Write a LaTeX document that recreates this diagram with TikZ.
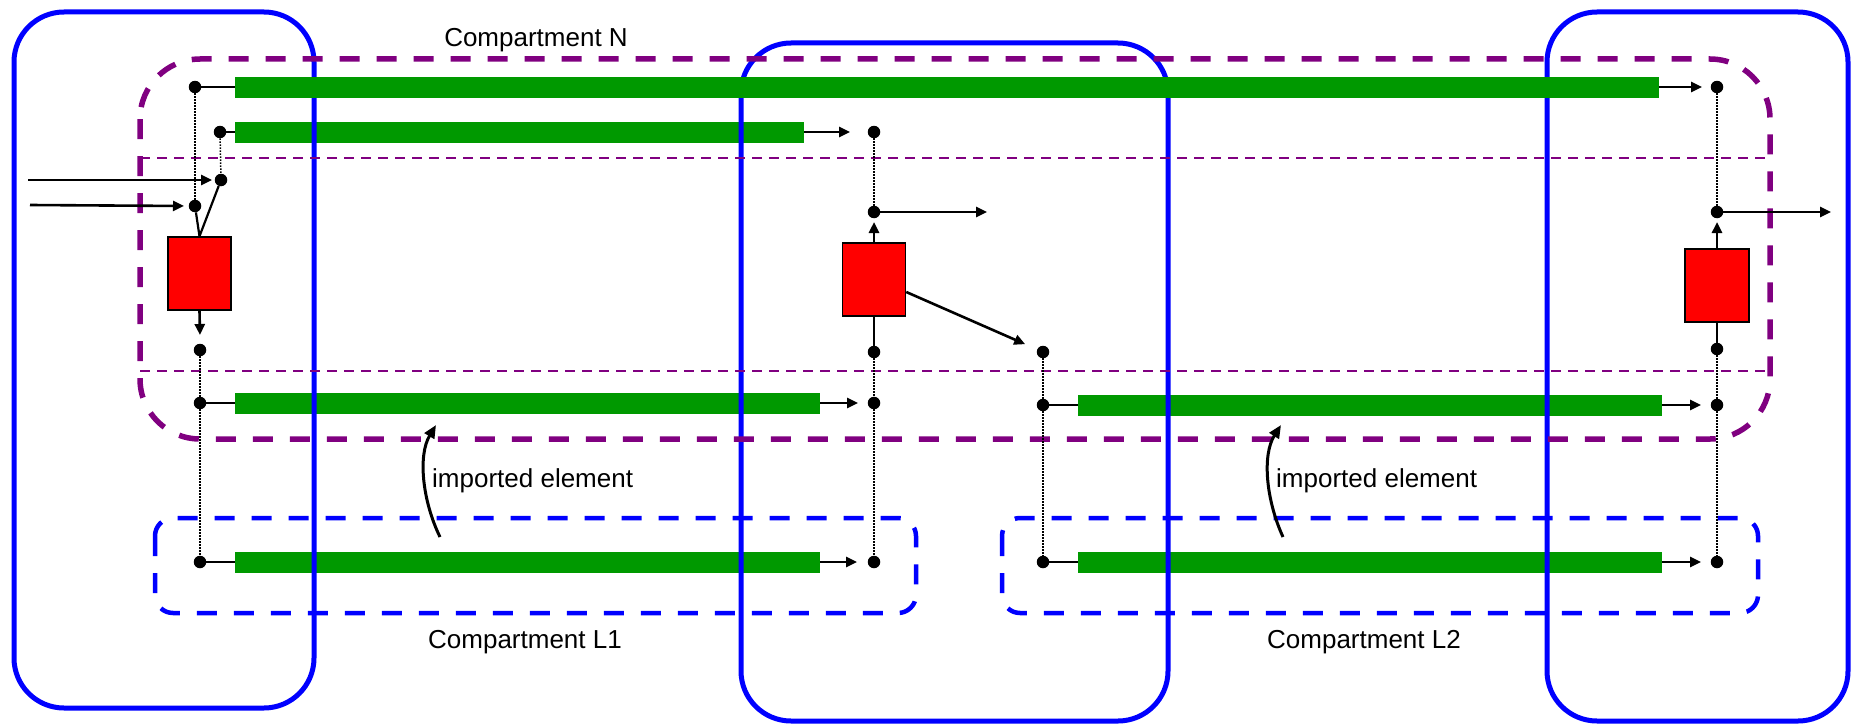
\documentclass[tikz,border=0pt]{standalone}
\usepackage{fontspec}
\setmainfont{Liberation Sans}
\usetikzlibrary{arrows.meta}
\definecolor{cblue}{RGB}{0,0,255}
\definecolor{cpurple}{RGB}{128,0,128}
\definecolor{cgreen}{RGB}{0,153,0}
\definecolor{cred}{RGB}{255,0,0}
\begin{document}
\begin{tikzpicture}[x=1pt,y=-1pt,
  dot/.style={circle,fill=black,inner sep=0pt,minimum size=12.5pt},
  bar/.style={fill=cgreen,inner sep=0pt,minimum height=21pt},
  proc/.style={draw=black,line width=1.5pt,fill=cred,inner sep=0pt,minimum width=63pt,minimum height=73pt},
  comp/.style={draw=cblue,line width=5pt,rounded corners=50pt},
  compN/.style={draw=cpurple,line width=5.5pt,dash pattern=on 20pt off 17pt,rounded corners=60pt},
  sep/.style={draw=cpurple,line width=2.5pt,dash pattern=on 10pt off 7pt},
  compL/.style={draw=cblue,line width=4.5pt,dash pattern=on 20pt off 17pt,rounded corners=18pt},
  arr/.style={line width=2.6pt,-{Triangle[length=11pt,width=10pt]}},
  carr/.style={line width=3pt,-{Triangle[length=13pt,width=11pt]}},
  conn/.style={line width=2.2pt},
  dotl/.style={line width=1.5pt,dash pattern=on 1.5pt off 1.5pt},
  lbl/.style={font=\fontsize{26}{30}\selectfont,inner sep=0pt}]
\useasboundingbox (0,0) rectangle (1857,725);

% green bars (under the blue compartments)
\node[bar,minimum width=569pt] (bar2) at (519.5,132) {};
\node[bar,minimum width=585pt] (bar3) at (527.5,403) {};
\node[bar,minimum width=585pt] (bar4) at (527.5,562) {};
\node[bar,minimum width=584pt] (bar5) at (1370,405) {};
\node[bar,minimum width=584pt] (bar6) at (1370,562) {};

% blue compartments
\draw[comp] (14,12) rectangle (314,708);
\draw[comp] (741,43) rectangle (1168,721);
\draw[comp] (1547,12) rectangle (1848,721);

\node[bar,minimum width=1424pt] (bar1) at (947,87) {};

% compartment N
\draw[compN] (140,59) rectangle (1770,439);
\draw[sep] (140,158) -- (1767,158);
\draw[sep] (140,371) -- (1767,371);

% compartments L1, L2
\draw[compL] (155,518) rectangle (916,613);
\draw[compL] (1002,518) rectangle (1758,613);

% labels
\node[lbl,anchor=base] (labN) at (536,47) {Compartment N};
\node[lbl,anchor=base] (labL1) at (525,648) {Compartment L1};
\node[lbl,anchor=base] (labL2) at (1364,648) {Compartment L2};
\node[lbl,anchor=base west] (imp1) at (432,487) {imported element};
\node[lbl,anchor=base west] (imp2) at (1276,487) {imported element};

% red processes
\node[proc] (box1) at (199.5,273.5) {};
\node[proc] (box2) at (874,279.5) {};
\node[proc,minimum width=64pt] (box3) at (1717,285.5) {};

% dots
\node[dot] (dA) at (195,87) {};
\node[dot] (dB) at (220,132) {};
\node[dot] (dC) at (221,180) {};
\node[dot] (dD) at (195,206) {};
\node[dot] (dE) at (200,350) {};
\node[dot] (dF) at (200,403) {};
\node[dot] (dG) at (200,562) {};
\node[dot] (mA) at (874,132) {};
\node[dot] (mB) at (874,212) {};
\node[dot] (mC) at (874,352) {};
\node[dot] (mD) at (874,403) {};
\node[dot] (mE) at (874,562) {};
\node[dot] (nA) at (1043,352) {};
\node[dot] (nB) at (1043,405) {};
\node[dot] (nC) at (1043,562) {};
\node[dot] (rA) at (1717,87) {};
\node[dot] (rB) at (1717,212) {};
\node[dot] (rC) at (1717,349) {};
\node[dot] (rD) at (1717,405) {};
\node[dot] (rE) at (1717,562) {};

\coordinate (in1) at (28,180);
\coordinate (in2) at (30,205);
\coordinate (out1) at (987,212);
\coordinate (out2) at (1831,212);
\coordinate (c1s) at (440,537);
\coordinate (c1e) at (436,425);
\coordinate (c2s) at (1283,537);
\coordinate (c2e) at (1281,425);

% dotted links
\draw[dotl] (dA) -- (dD);
\draw[dotl] (dB) -- (dC);
\draw[dotl] (dE) -- (dF);
\draw[dotl] (dF) -- (dG);
\draw[dotl] (mA) -- (mB);
\draw[dotl] (mC) -- (mD);
\draw[dotl] (mD) -- (mE);
\draw[dotl] (nA) -- (nB);
\draw[dotl] (nB) -- (nC);
\draw[dotl] (rA) -- (rB);
\draw[dotl] (rC) -- (rD);
\draw[dotl] (rD) -- (rE);

% solid links
\draw[conn] (dA) -- (bar1.west);
\draw[conn] (dB) -- (bar2.west);
\draw[conn] (dF) -- (bar3.west);
\draw[conn] (dG) -- (bar4.west);
\draw[conn] (nB) -- (bar5.west);
\draw[conn] (nC) -- (bar6.west);
\draw[conn] (dD) -- (box1.north);
\draw[conn] (dC) -- (box1.north);
\draw[conn] (box2.south) -- (mC);
\draw[conn] (box3.south) -- (rC);

% arrows
\draw[arr] (bar1.east) -- ([xshift=-15pt]rA.center);
\draw[arr] (bar2.east) -- ([xshift=-24pt]mA.center);
\draw[arr] (bar3.east) -- ([xshift=-16pt]mD.center);
\draw[arr] (bar4.east) -- ([xshift=-17pt]mE.center);
\draw[arr] (bar5.east) -- ([xshift=-16pt]rD.center);
\draw[arr] (bar6.east) -- ([xshift=-16pt]rE.center);
\draw[arr] (mB) -- (out1);
\draw[arr] (rB) -- (out2);
\draw[arr] (in1) -- ([xshift=-9pt]dC.center);
\draw[arr] (in2) -- ([xshift=-11pt]dD.center);
\draw[arr] (box1.south) -- ([yshift=15pt]dE.center);
\draw[arr] (box2.north) -- ([yshift=-10pt]mB.center);
\draw[arr] (box3.north) -- ([yshift=-10pt]rB.center);
\draw[arr,shorten >=13pt] ([yshift=-12.5pt]box2.east) -- (nA);

% imported element arrows
\draw[carr] (c1s) .. controls (422,500) and (418,455) .. (c1e);
\draw[carr] (c2s) .. controls (1266,500) and (1262,455) .. (c2e);
\end{tikzpicture}
\end{document}
